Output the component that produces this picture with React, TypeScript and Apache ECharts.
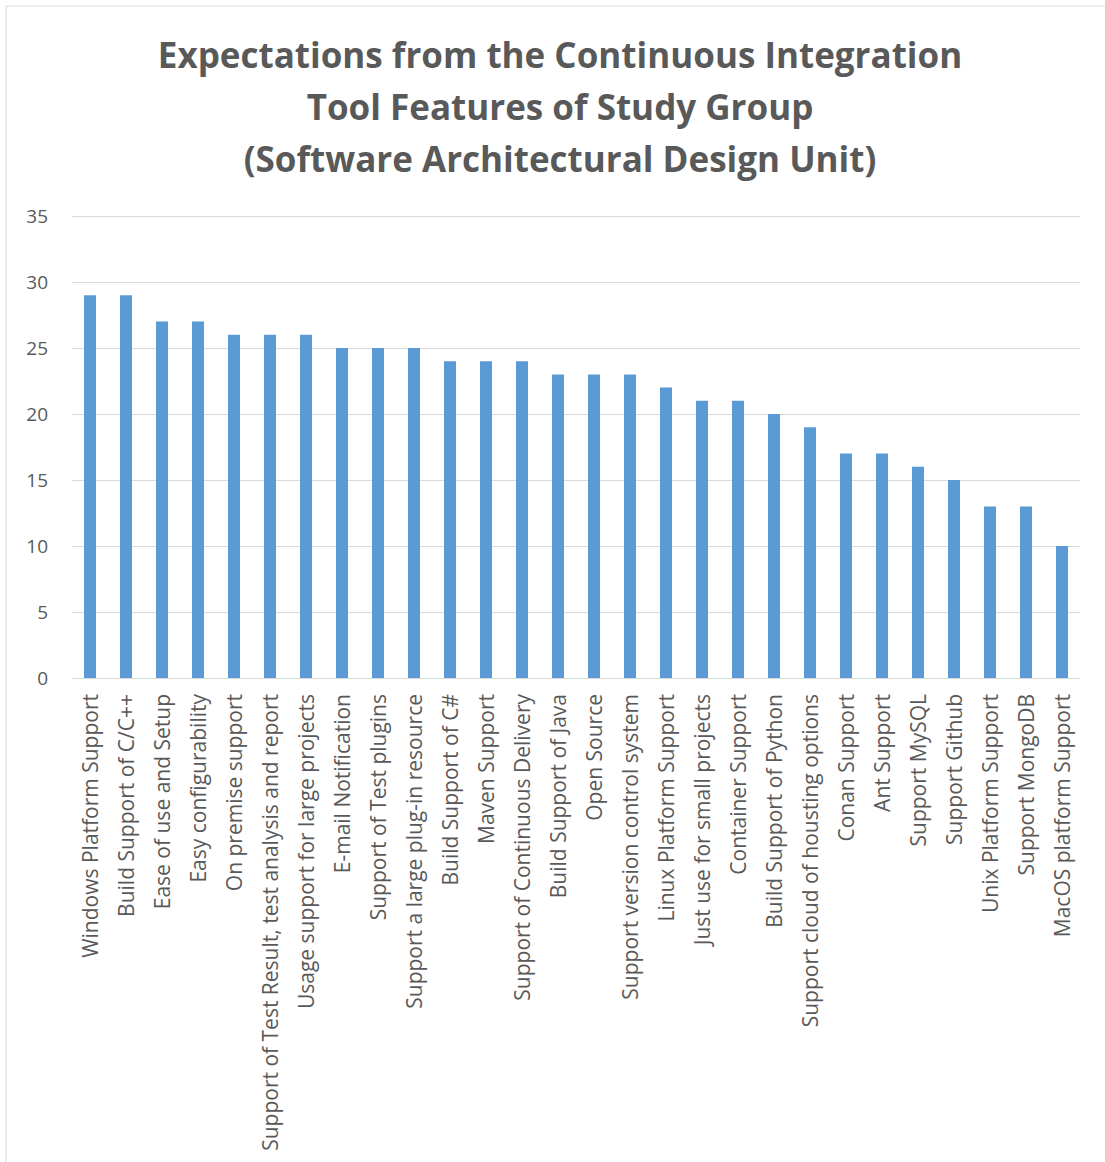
import React, { useEffect, useRef } from "react";
import * as echarts from "echarts";

const categories = [
  "Windows Platform Support",
  "Build Support of C/C++",
  "Ease of use and Setup",
  "Easy configurability",
  "On premise support",
  "Support of Test Result, test analysis and report",
  "Usage support for large projects",
  "E-mail Notification",
  "Support of Test plugins",
  "Support a large plug-in resource",
  "Build Support of C#",
  "Maven Support",
  "Support of Continuous Delivery",
  "Build Support of Java",
  "Open Source",
  "Support version control system",
  "Linux Platform Support",
  "Just use for small projects",
  "Container Support",
  "Build Support of Python",
  "Support cloud of housting options",
  "Conan Support",
  "Ant Support",
  "Support MySQL",
  "Support Github",
  "Unix Platform Support",
  "Support MongoDB",
  "MacOS platform Support",
];

const values = [29, 29, 27, 27, 26, 26, 26, 25, 25, 25, 24, 24, 24, 23, 23, 23, 22, 21, 21, 20, 19, 17, 17, 16, 15, 13, 13, 10];

const titleLines = [
  "Expectations from the Continuous Integration",
  "Tool Features of Study Group",
  "(Software Architectural Design Unit)",
];

export default function App() {
  const ref = useRef<HTMLDivElement>(null);
  useEffect(() => {
    if (!ref.current) return;
    const chart = echarts.init(ref.current, null, { renderer: "svg" });
    chart.setOption({
      animation: false,
      backgroundColor: "#ffffff",
      textStyle: { fontFamily: "Open Sans" },
      graphic: [
        {
          type: "rect",
          shape: { x: 6, y: 6, width: 1200, height: 1300 },
          style: { fill: "none", stroke: "#d9d9d9", lineWidth: 1 },
          silent: true,
        },
      ],
      title: {
        text: titleLines.join("\n"),
        left: 555,
        textAlign: "center",
        top: 23,
        textStyle: {
          fontFamily: "Open Sans",
          fontSize: 35,
          fontWeight: "bold",
          color: "#595959",
          lineHeight: 52,
        },
      },
      grid: { left: 72, right: 25, top: 216, bottom: 484, containLabel: false },
      xAxis: {
        type: "category",
        data: categories,
        axisLine: { show: true, lineStyle: { color: "#d9d9d9" } },
        axisTick: { show: false },
        axisLabel: {
          rotate: 90,
          interval: 0,
          margin: 16,
          fontSize: 21,
          color: "#595959",
          fontFamily: "Open Sans",
        },
      },
      yAxis: {
        type: "value",
        min: 0,
        max: 35,
        interval: 5,
        axisLine: { show: false },
        axisTick: { show: false },
        splitLine: { lineStyle: { color: "#d9d9d9", width: 1 } },
        axisLabel: {
          fontSize: 19,
          color: "#595959",
          margin: 24,
          fontFamily: "Open Sans",
        },
      },
      series: [
        {
          type: "bar",
          data: values,
          barWidth: 12,
          itemStyle: { color: "#5b9bd5" },
        },
      ],
    });
    return () => chart.dispose();
  }, []);
  return (
    <div
      ref={ref}
      style={{ position: "absolute", left: 0, top: 0, width: 1105, height: 1162 }}
    />
  );
}
